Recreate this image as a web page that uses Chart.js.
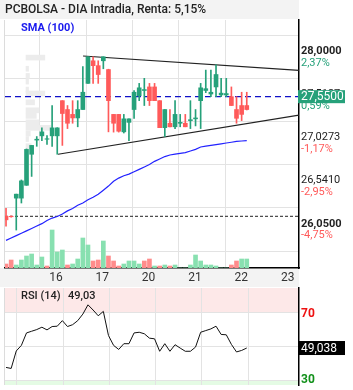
<!DOCTYPE html>
<html>
<head>
<meta charset="utf-8">
<script src="https://cdn.jsdelivr.net/npm/chart.js@4.4.0/dist/chart.umd.min.js"></script>
<style>
  body { margin: 0; background: #fff; }
  #wrap { position: relative; width: 353px; height: 390px; }
  #main { position: absolute; left: 0; top: 0; }
  #rsi { position: absolute; left: 0; top: 287px; }
</style>
</head>
<body>
<div id="wrap">
  <canvas id="main" width="353" height="287"></canvas>
  <canvas id="rsi" width="353" height="103"></canvas>
</div>
<script>
// candles (hourly)
var open  = [26.20,26.20,26.405,26.405,26.55,26.90,27.06,27.108,27.07,27.108,27.108,27.505,27.405,27.35,27.31,27.405,
             27.70,27.955,27.90,27.955,27.856,27.35,27.35,27.153,27.26,27.405,27.56,27.62,27.66,27.66,27.505,27.20,
             27.25,27.21,27.25,27.25,27.28,27.30,27.505,27.62,27.58,27.66,27.57,27.57,27.55,27.405,27.45,27.45];
var high  = [26.29,26.205,26.45,26.61,26.96,27.00,27.10,27.198,27.11,27.45,27.20,27.505,27.45,27.505,27.505,27.89,
             28.00,28.00,27.955,28.00,27.86,27.35,27.35,27.35,27.30,27.62,27.70,27.757,27.70,27.70,27.505,27.405,
             27.405,27.505,27.35,27.35,27.505,27.405,27.70,27.85,27.85,27.91,27.757,27.757,27.66,27.55,27.60,27.60];
var low   = [26.09,26.19,26.045,26.35,26.55,26.65,26.99,27.054,27.01,26.99,26.90,27.00,27.19,27.25,27.21,27.405,
             27.70,27.70,27.70,27.865,27.153,27.15,27.15,27.14,27.054,27.306,27.505,27.45,27.45,27.505,27.20,27.10,
             27.21,27.19,27.21,27.21,27.19,27.22,27.19,27.595,27.55,27.55,27.55,27.55,27.45,27.25,27.28,27.40];
var close = [26.16,26.195,26.45,26.60,26.955,27.00,27.07,27.153,27.075,27.198,27.198,27.36,27.25,27.31,27.405,27.60,
             28.00,27.90,27.80,28.00,27.505,27.25,27.16,27.30,27.30,27.60,27.65,27.63,27.505,27.505,27.20,27.405,
             27.21,27.35,27.26,27.21,27.29,27.31,27.65,27.64,27.60,27.80,27.59,27.585,27.45,27.306,27.35,27.405];
var volume = [4000,8000,3000,8000,12000,14000,3000,11000,2000,38000,16000,18000,3000,4000,9000,30000,
              23000,7000,8000,27000,12000,7000,2000,4000,7000,7000,4000,7000,9000,2000,2000,3000,
              2000,3000,0,0,3000,13000,7000,3000,3000,2000,0,0,3000,7000,9000,9000];
var volumeUp = [0,0,1,1,1,1,1,1,0,1,1,1,0,1,1,1,1,0,0,1,0,0,0,1,1,1,1,0,0,1,0,1,
                0,1,1,1,1,1,1,1,1,1,1,1,0,0,1,1];
var sma100 = [25.928,25.955,25.982,26.009,26.036,26.063,26.090,26.117,26.153,26.180,26.198,26.225,26.261,26.288,26.324,26.351,
              26.387,26.414,26.450,26.495,26.541,26.595,26.631,26.658,26.676,26.703,26.730,26.757,26.784,26.820,26.847,26.874,
              26.892,26.901,26.910,26.919,26.937,26.955,26.982,26.991,27.000,27.009,27.018,27.027,27.036,27.045,27.050,27.054];
var rsi14 = [37.5,36.9,47.3,50.6,58.0,59.0,60.0,61.4,59.8,61.8,62.0,65.3,61.8,62.9,65.3,69.2,
             74.7,71.6,68.2,70.8,56.5,50.6,48.2,51.6,51.6,58.0,58.4,57.5,54.9,54.5,47.1,51.6,
             47.1,51.0,49.0,47.1,47.1,49.6,58.4,59.4,60.4,62.0,57.1,56.9,51.2,46.7,47.6,49.038];

// volume at price profile on the left
var profPrice = [27.991,27.865,27.784,27.72,27.63,27.586,27.486,27.396,27.333,27.261,27.198,27.135,27.072,26.991,26.604];
var profSize  = [22,3,4,3,3,22,10,15,12,15,29,5,3,6,3];

// triangle lines
var upperLine = [{x: 15.04, y: 28.009}, {x: 57.2, y: 27.847}];
var lowerLine = [{x: 10.16, y: 26.90}, {x: 57.2, y: 27.342}];

var priceTicks = [28.0, 27.5137, 27.0273, 26.541, 26.05];
var pctLabels = ['2,37%', '0,59%', '-1,17%', '-2,95%', '-4,75%'];
var lastPrice = 27.55;
var refLine = 26.20;
var dayTicks = [11.13, 20.17, 29.2, 38.25, 47.3, 56.35];
var dayLabels = ['16', '17', '20', '21', '22', '23'];
var rsiGrid = [2.1, 11.13, 20.17, 29.2, 38.25, 47.3];
var rsiLevels = [30, 50, 70];

var xMin = -0.2, xMax = 57.2;
var GREEN = '#26a17a', RED = '#ff5a5a';
var FONT = 'Roboto, Arial, sans-serif';

function fmt(v) { return v.toFixed(4).replace('.', ','); }
function candleColor(i) { return close[i] >= open[i] ? GREEN : RED; }

var mainDeco = {
  id: 'mainDeco',
  beforeDraw: function(chart) {
    var c = chart.ctx, a = chart.chartArea;
    c.save();
    c.fillStyle = '#f3f3f3';
    c.fillRect(0, 0, a.right, 19);
    c.fillRect(0, a.bottom, a.right, chart.height - a.bottom);
    c.strokeStyle = '#dcdcdc';
    c.lineWidth = 1;
    c.beginPath(); c.moveTo(a.left - 0.5, a.top); c.lineTo(a.left - 0.5, a.bottom); c.stroke();
    c.restore();
  },
  afterDraw: function(chart) {
    var c = chart.ctx, y = chart.scales.y, a = chart.chartArea;
    c.save();
    c.textBaseline = 'middle';
    c.textAlign = 'left';
    c.fillStyle = '#222';
    c.font = '500 12px ' + FONT;
    c.fillText('PCBOLSA - DIA Intradia, Renta: 5,15%', 5, 10);
    c.fillStyle = '#1a1aee';
    c.font = 'bold 11px ' + FONT;
    c.fillText('SMA (100)', 21, 28);

    priceTicks.forEach(function(v, k) {
      var py = y.getPixelForValue(v);
      var bold = (k === 0 || k === priceTicks.length - 1);
      c.font = (bold ? 'bold ' : '') + '11px ' + FONT;
      c.fillStyle = '#222';
      c.fillText(fmt(v), a.right + 2, py - 5.5);
      c.font = '11px ' + FONT;
      c.fillStyle = pctLabels[k].charAt(0) === '-' ? RED : GREEN;
      c.fillText(pctLabels[k], a.right + 2, py + 6);
    });
    var lp = y.getPixelForValue(lastPrice);
    c.fillStyle = GREEN;
    c.fillRect(a.right - 1, lp - 6.5, 47, 13);
    c.fillStyle = '#fff';
    c.font = '12px ' + FONT;
    c.fillText(fmt(lastPrice), a.right + 2, lp + 0.5);
    c.restore();
  }
};

new Chart(document.getElementById('main'), {
  type: 'bar',
  data: {
    datasets: [
      {
        type: 'bar', label: 'body', order: 1, grouped: false, barThickness: 4,
        data: open.map(function(o, i) { return {x: i, y: [o, close[i]]}; }),
        backgroundColor: open.map(function(o, i) { return candleColor(i); })
      },
      {
        type: 'bar', label: 'wick', order: 2, grouped: false, barThickness: 1,
        data: low.map(function(l, i) { return {x: i, y: [l, high[i]]}; }),
        backgroundColor: low.map(function(l, i) { return candleColor(i); })
      },
      {
        type: 'line', label: 'upper', order: 3, data: upperLine,
        borderColor: '#222', borderWidth: 1.2, pointRadius: 0
      },
      {
        type: 'line', label: 'lower', order: 3, data: lowerLine,
        borderColor: '#222', borderWidth: 1.2, pointRadius: 0
      },
      {
        type: 'line', label: 'SMA (100)', order: 4,
        data: sma100.map(function(v, i) { return {x: i, y: v}; }),
        borderColor: '#2222ff', borderWidth: 1.2, pointRadius: 0, tension: 0
      },
      {
        type: 'line', label: 'last', order: 5,
        data: [{x: xMin, y: lastPrice}, {x: xMax, y: lastPrice}],
        borderColor: '#1010c8', borderWidth: 1.3, borderDash: [6, 4], pointRadius: 0
      },
      {
        type: 'line', label: 'ref', order: 5,
        data: [{x: xMin, y: refLine}, {x: xMax, y: refLine}],
        borderColor: '#222', borderWidth: 1, borderDash: [3, 2], pointRadius: 0
      },
      {
        type: 'bar', label: 'volume', order: 8, grouped: false, barThickness: 4, yAxisID: 'yv',
        data: volume.map(function(v, i) { return {x: i, y: v}; }),
        backgroundColor: volumeUp.map(function(u) { return u ? '#88e0b0' : '#ff8c8c'; })
      },
      {
        type: 'bar', label: 'profile', order: 9, grouped: false, indexAxis: 'y', barThickness: 5,
        xAxisID: 'xp', yAxisID: 'y',
        data: profSize.map(function(s, k) { return {x: s, y: profPrice[k]}; }),
        backgroundColor: '#ececec'
      }
    ]
  },
  options: {
    responsive: false,
    animation: false,
    layout: {padding: {left: 5, top: 20, right: 0, bottom: 0}},
    plugins: {legend: {display: false}, tooltip: {enabled: false}},
    scales: {
      x: {
        type: 'linear', min: xMin, max: xMax, offset: false,
        afterBuildTicks: function(s) { s.ticks = dayTicks.map(function(v) { return {value: v}; }); },
        ticks: {
          callback: function(v, i) { return dayLabels[i]; },
          labelOffset: -7, padding: 3, maxRotation: 0, autoSkip: false,
          color: '#333', font: {size: 12, family: FONT}
        },
        grid: {
          color: function(ctx) { return ctx.index === dayTicks.length - 1 ? 'rgba(0,0,0,0)' : '#e3e3e3'; },
          drawTicks: false
        },
        border: {display: true, color: '#000', width: 1.5},
        afterFit: function(s) { s.height = 19; }
      },
      y: {
        position: 'right', min: 25.8965, max: 28.1354,
        afterBuildTicks: function(s) { s.ticks = priceTicks.map(function(v) { return {value: v}; }); },
        ticks: {display: false},
        grid: {color: '#e3e3e3', drawTicks: false},
        border: {display: true, color: '#000', width: 1.5},
        afterFit: function(s) { s.width = 54; }
      },
      yv: {display: false, min: 0, max: 248000},
      xp: {display: false, type: 'linear', min: 0, max: 294}
    }
  },
  plugins: [mainDeco]
});

var rsiDeco = {
  id: 'rsiDeco',
  beforeDraw: function(chart) {
    var c = chart.ctx, a = chart.chartArea, y = chart.scales.y;
    c.save();
    c.fillStyle = '#fde8e8';
    c.fillRect(a.left, a.top, a.right - a.left, y.getPixelForValue(70) - a.top);
    c.fillStyle = '#e4fbe4';
    var p30 = y.getPixelForValue(30);
    c.fillRect(a.left, p30, a.right - a.left, a.bottom - p30);
    c.strokeStyle = '#dcdcdc';
    c.beginPath(); c.moveTo(a.left - 0.5, a.top); c.lineTo(a.left - 0.5, a.bottom); c.stroke();
    c.restore();
  },
  afterDraw: function(chart) {
    var c = chart.ctx, a = chart.chartArea, y = chart.scales.y;
    var last = rsi14[rsi14.length - 1];
    c.save();
    c.textBaseline = 'middle';
    c.textAlign = 'left';
    c.fillStyle = '#222';
    c.font = '500 11px ' + FONT;
    c.fillText('RSI (14)', 21, 9);
    c.fillText((Math.floor(last * 100) / 100).toFixed(2).replace('.', ','), 68, 9);
    c.font = 'bold 12px ' + FONT;
    c.fillStyle = '#ee1111';
    c.fillText('70', a.right + 2, y.getPixelForValue(70) + 1);
    c.fillStyle = '#11901a';
    c.fillText('30', a.right + 2, y.getPixelForValue(30));
    var lp = y.getPixelForValue(last);
    c.fillStyle = '#000';
    c.fillRect(a.right - 1, lp - 7, 47, 14);
    c.fillStyle = '#fff';
    c.font = '12px ' + FONT;
    c.fillText(last.toFixed(3).replace('.', ','), a.right + 2, lp + 0.5);
    c.restore();
  }
};

new Chart(document.getElementById('rsi'), {
  type: 'line',
  data: {
    datasets: [{
      label: 'RSI (14)',
      data: rsi14.map(function(v, i) { return {x: i, y: v}; }),
      borderColor: '#111', borderWidth: 1, pointRadius: 0, tension: 0
    }]
  },
  options: {
    responsive: false,
    animation: false,
    layout: {padding: {left: 5, top: 1, right: 0, bottom: 0}},
    plugins: {legend: {display: false}, tooltip: {enabled: false}},
    scales: {
      x: {
        type: 'linear', min: xMin, max: xMax, offset: false,
        afterBuildTicks: function(s) { s.ticks = rsiGrid.map(function(v) { return {value: v}; }); },
        ticks: {display: false},
        grid: {color: '#e3e3e3', drawTicks: false},
        border: {display: false},
        afterFit: function(s) { s.height = 5; }
      },
      y: {
        position: 'right', min: 27.06, max: 84.7,
        afterBuildTicks: function(s) { s.ticks = rsiLevels.map(function(v) { return {value: v}; }); },
        ticks: {display: false},
        grid: {color: '#e3e3e3', drawTicks: false},
        border: {display: true, color: '#000', width: 1.5},
        afterFit: function(s) { s.width = 54; }
      }
    }
  },
  plugins: [rsiDeco]
});
</script>
</body>
</html>
